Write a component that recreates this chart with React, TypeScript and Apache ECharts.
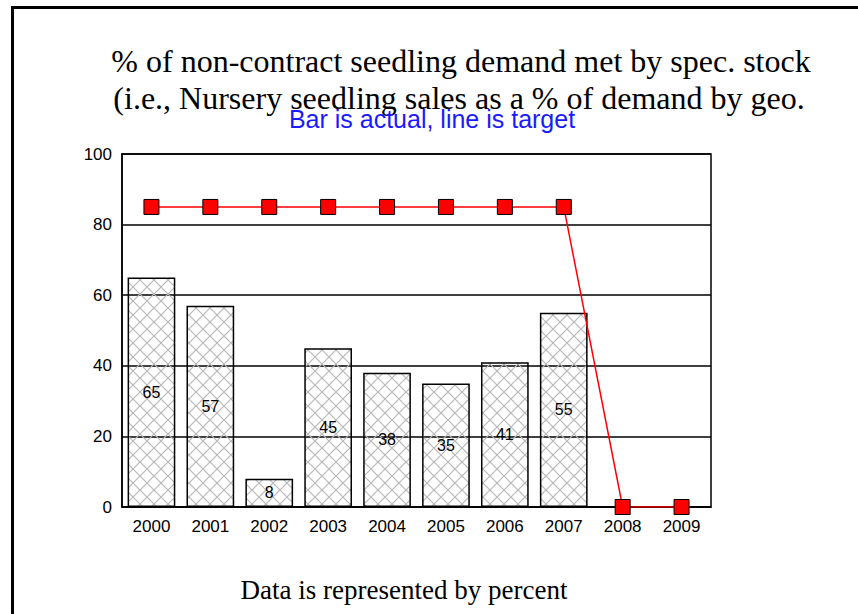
import React, { useEffect, useRef } from "react";
import * as echarts from "echarts";

const years = ["2000", "2001", "2002", "2003", "2004", "2005", "2006", "2007", "2008", "2009"];
const actual: (number | null)[] = [65, 57, 8, 45, 38, 35, 41, 55, null, null];
const target = [85, 85, 85, 85, 85, 85, 85, 85, 0, 0];
const yTicks = [0, 20, 40, 60, 80, 100];

function makeHatch(): string {
  const s = 14;
  const c = document.createElement("canvas");
  c.width = s;
  c.height = s;
  const ctx = c.getContext("2d")!;
  ctx.clearRect(0, 0, s, s);
  ctx.strokeStyle = "#b8b8b8";
  ctx.lineWidth = 1.2;
  ctx.beginPath();
  ctx.moveTo(0, 0);
  ctx.lineTo(s, s);
  ctx.moveTo(s, 0);
  ctx.lineTo(0, s);
  ctx.stroke();
  return c.toDataURL();
}

export default function App() {
  const ref = useRef<HTMLDivElement>(null);
  useEffect(() => {
    if (!ref.current) return;
    const chart = echarts.init(ref.current, undefined, { renderer: "svg" });
    const hatch = makeHatch();
    const sans = "'Liberation Sans', Arial, sans-serif";
    const serif = "'Liberation Serif', 'Times New Roman', serif";
    chart.setOption({
      animation: false,
      backgroundColor: "#fff",
      grid: { left: 122, top: 154, right: 147, bottom: 107, show: true, borderColor: "#000", borderWidth: 1.5, backgroundColor: "transparent" },
      graphic: [
        { type: "rect", shape: { x: 11, y: 6, width: 847, height: 3 }, style: { fill: "#000" } },
        { type: "rect", shape: { x: 11, y: 6, width: 3, height: 608 }, style: { fill: "#000" } },
        { type: "text", style: { text: "% of non-contract seedling demand met by spec. stock", font: `32px ${serif}`, fill: "#000", textAlign: "center", textVerticalAlign: "middle", x: 461, y: 61 } },
        { type: "text", style: { text: "(i.e., Nursery seedling sales as a % of demand by geo.", font: `32px ${serif}`, fill: "#000", textAlign: "center", textVerticalAlign: "middle", x: 459, y: 98 } },
        { type: "text", z: 10, style: { text: "Bar is actual, line is target", font: `25px ${sans}`, fill: "#1a1aff", textAlign: "center", textVerticalAlign: "middle", x: 432, y: 119 } },
        { type: "text", style: { text: "Data is represented by percent", font: `27px ${serif}`, fill: "#000", textAlign: "center", textVerticalAlign: "middle", x: 404, y: 590 } },
      ],
      xAxis: {
        type: "category",
        data: years,
        axisLine: { show: true, lineStyle: { color: "#000", width: 1.5 } },
        axisTick: { show: false },
        axisLabel: { color: "#000", fontFamily: sans, fontSize: 17, margin: 11 },
        splitLine: { show: false },
      },
      yAxis: {
        type: "value",
        min: yTicks[0],
        max: yTicks[yTicks.length - 1],
        interval: 20,
        axisLine: { show: true, lineStyle: { color: "#000", width: 1.5 } },
        axisTick: { show: false },
        axisLabel: { color: "#000", fontFamily: sans, fontSize: 17, margin: 10 },
        splitLine: { show: true, lineStyle: { color: "#000", width: 1.5 } },
      },
      series: [
        {
          type: "bar",
          data: actual,
          barWidth: "81%",
          z: 3,
          itemStyle: {
            color: { image: hatch, repeat: "repeat", imageWidth: 14, imageHeight: 14 },
            borderColor: "#000",
            borderWidth: 1.5,
          },
          label: { show: true, position: "inside", color: "#000", fontFamily: sans, fontSize: 16 },
        },
        {
          type: "line",
          data: target,
          z: 5,
          symbol: "rect",
          symbolSize: 15,
          lineStyle: { color: "#ff0000", width: 1.5 },
          itemStyle: { color: "#ff0000", borderColor: "#000", borderWidth: 1 },
          label: { show: false },
        },
      ],
    });
    return () => chart.dispose();
  }, []);
  return <div ref={ref} style={{ position: "fixed", left: 0, top: 0, width: 858, height: 614 }} />;
}
